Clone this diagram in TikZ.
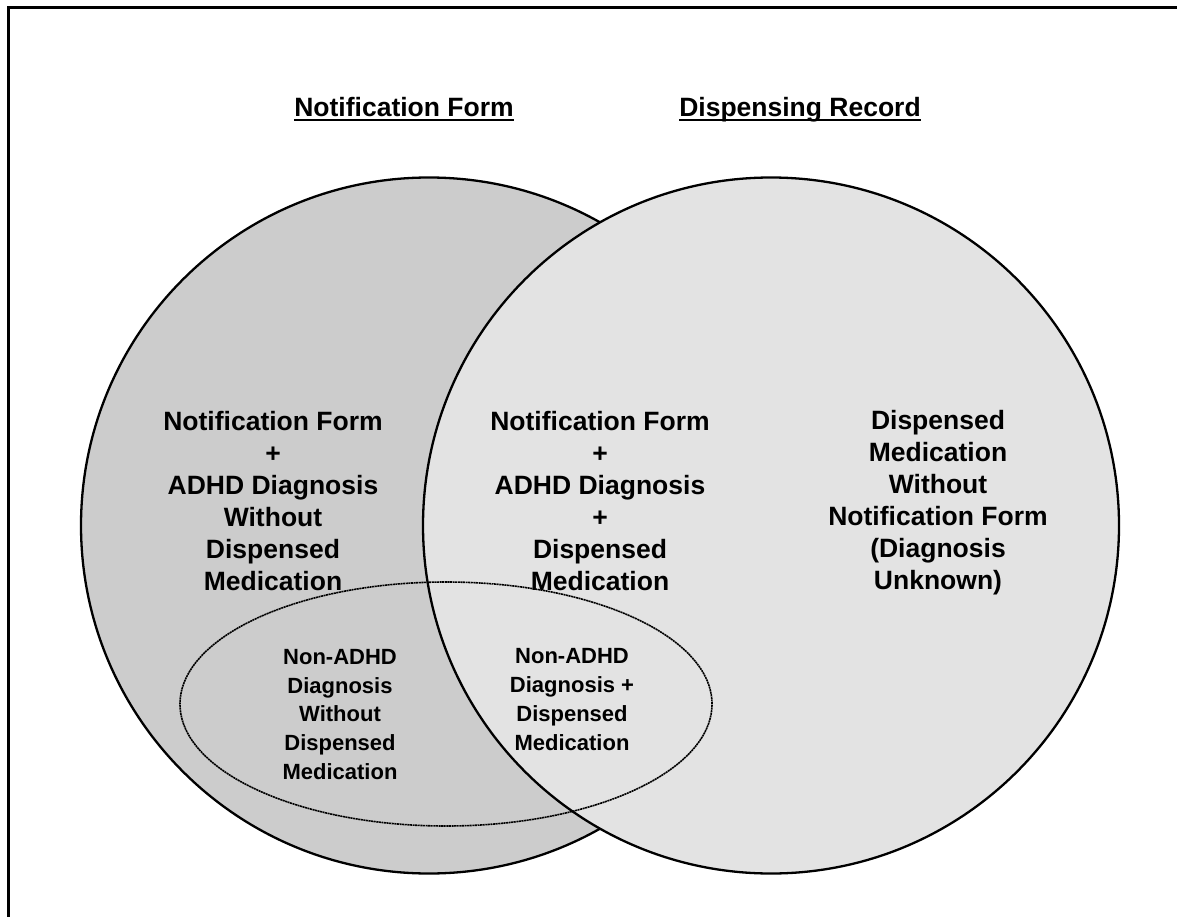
\documentclass[tikz,border=0pt]{standalone}
\usepackage{fontspec}
\setmainfont{Liberation Sans}
\usetikzlibrary{shapes.geometric}
\colorlet{form colour}{black!20}
\colorlet{record colour}{black!11}
\tikzset{
    % Fills for the two record sets
    form fill/.style={fill=form colour},
    record fill/.style={fill=record colour},
    % Outlines
    set line/.style={draw=black, line width=2.3pt},
    subset line/.style={draw=black, line width=1.6pt, dash pattern=on 2pt off 0.6pt},
    title rule/.style={line width=2pt},
%
    % We almost always want centre aligned node text
    every node/.style={align=center},
    region text/.style={font=\bfseries\fontsize{26.5}{32}\selectfont},
    subset text/.style={font=\bfseries\fontsize{22}{28.7}\selectfont},
}

\begin{document}
\begin{tikzpicture}[
    x=1pt, y=-1pt,
    set circle/.style={circle, set line, minimum size=696pt, inner sep=0},
    title/.style={region text, inner sep=0, anchor=base},
]
\useasboundingbox (0,0) rectangle (1177,917);

% Frame
\draw [line width=3pt] (8,917) |- (1177,8);

% The two sets, the right one drawn over the left one
\node [set circle, form fill] (form set) at (429,525.5) {};
\node [set circle, record fill] (record set) at (771,525.5) {};

% Non-ADHD subset
\node [ellipse, subset line, minimum width=532pt, minimum height=244pt,
    inner sep=0] (non adhd) at (446,704) {};

% Titles
\node [title] (form title) at (404,117) {Notification Form};
\node [title] (record title) at (800,117) {Dispensing Record};
\draw [title rule]
    ([yshift=-3pt]form title.base west) -- ([yshift=-3pt]form title.base east);
\draw [title rule]
    ([yshift=-3pt]record title.base west) -- ([yshift=-3pt]record title.base east);

% Region labels
\node [region text] (form only) at (273,501)
    {Notification Form\\+\\ADHD Diagnosis\\Without\\Dispensed\\Medication};
\node [region text] (both) at (600,501)
    {Notification Form\\+\\ADHD Diagnosis\\+\\Dispensed\\Medication};
\node [region text] (record only) at (938,503)
    {Dispensed\\Medication\\Without\\Notification Form\\(Diagnosis\\Unknown)};
\node [subset text] (non adhd form) at (340,714.5)
    {Non-ADHD\\Diagnosis\\Without\\Dispensed\\Medication};
\node [subset text] (non adhd both) at (572,699.5)
    {Non-ADHD\\Diagnosis +\\Dispensed\\Medication};

\end{tikzpicture}
\end{document}
